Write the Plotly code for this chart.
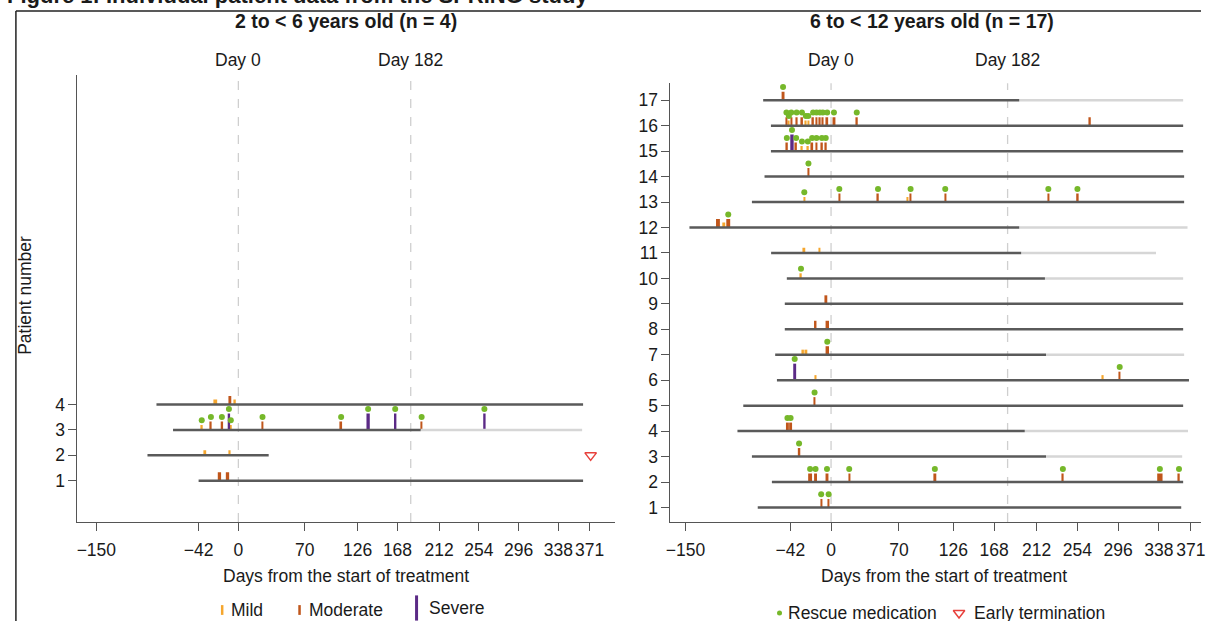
import plotly.graph_objects as go

W, H = 1206, 621

# ---------------- data ----------------
tick_vals = [-150, -42, 0, 70, 126, 168, 212, 254, 296, 338, 371]
tick_text = ["\u2212150", "\u221242", "0", "70", "126", "168", "212", "254", "296", "338", "371"]
ref_days = [0, 182]
ref_labels = ["Day 0", "Day 182"]

# Left panel: 2 to < 6 years old
L_patients = [1, 2, 3, 4]
L_start = [-42, -96, -69, -86.5]
L_dark_end = [364, 32, 192.5, 364]
L_light_end = [None, None, 363, None]
L_term_patient = [2]
L_term_day = [372]

L_ev_patient = [1, 1, 2, 2, 3, 3, 3, 3, 3, 3, 3, 3, 3, 3, 3, 4, 4, 4]
L_ev_day = [-20, -11.5, -35, -9, -38.7, -29, -17.4, -8, -10, 25.5, 108.5, 137, 165.6, 193.5, 259.8, -24.4, -9, -3.5]
L_ev_sev = ["Moderate", "Moderate", "Mild", "Mild", "Mild", "Moderate", "Moderate", "Mild", "Severe",
            "Moderate", "Moderate", "Severe", "Severe", "Moderate", "Severe", "Mild", "Moderate", "Mild"]
L_ev_dur = [3.5, 3.5, 2, 1.5, 2, 1.5, 2.5, 2, 2.5, 1.5, 2, 3.5, 2.5, 1.5, 2.5, 4, 3, 1.5]
L_ev_rescue = [0, 0, 0, 0, 1, 1, 1, 1, 1, 1, 1, 1, 1, 1, 1, 0, 0, 0]

# Right panel: 6 to < 12 years old
R_patients = list(range(1, 18))
R_start = [-75.6, -61, -81.6, -96.5, -90.5, -55.8, -57.6, -47.7, -47.7, -45.6, -61.8, -146, -81.6, -68.6, -62, -62, -70]
R_dark_end = [361, 363, 221.6, 199.7, 363, 369, 221.6, 363, 363, 220.5, 196, 194, 364, 364, 363, 363, 194]
R_light_end = [None, None, 362, 368, None, None, 364, None, None, 363, 335, 367.5, None, None, None, None, 363]
R_term_patient = []
R_term_day = []

R_ev_patient = ([1, 1] + [2] * 8 + [3] + [4, 4] + [5] + [6] * 4 + [7] * 3 + [8, 8] + [9] + [10] + [11, 11]
                + [12] * 3 + [13] * 8 + [14] + [15] * 9 + [16] * 15 + [17])
R_ev_day = ([-10.2, -2.5]
            + [-21.6, -16, -4.2, 18.7, 107, 239, 339, 358.7]
            + [-33]
            + [-45, -41.7]
            + [-17]
            + [-37.5, -16, 280, 297.6]
            + [-29, -25.5, -3.9]
            + [-16.3, -3.9]
            + [-4.9]
            + [-31]
            + [-27.6, -11.7]
            + [-116.6, -110.6, -106]
            + [-27.6, 8.5, 48.4, 79, 82, 117.7, 224, 254]
            + [-23.3]
            + [-45.6, -40.3, -36, -30, -24, -19.5, -15, -9.5, -5.5]
            + [-46, -43.5, -41, -35.5, -30, -26, -23.5, -18.5, -15, -11.5, -8.5, -4, 3, 26.5, 267]
            + [-49.5])
R_ev_sev = (["Moderate"] * 2
            + ["Moderate"] * 8
            + ["Moderate"]
            + ["Moderate"] * 2
            + ["Moderate"]
            + ["Severe", "Mild", "Mild", "Moderate"]
            + ["Mild", "Mild", "Moderate"]
            + ["Moderate", "Moderate"]
            + ["Moderate"]
            + ["Mild"]
            + ["Mild", "Mild"]
            + ["Moderate", "Mild", "Moderate"]
            + ["Mild", "Moderate", "Moderate", "Mild", "Moderate", "Moderate", "Moderate", "Moderate"]
            + ["Moderate"]
            + ["Moderate", "Severe", "Moderate", "Mild", "Mild", "Moderate", "Moderate", "Moderate", "Moderate"]
            + ["Moderate", "Mild", "Moderate", "Moderate", "Moderate", "Mild", "Mild", "Moderate", "Moderate",
               "Moderate", "Moderate", "Moderate", "Moderate", "Moderate", "Moderate"]
            + ["Moderate"])
R_ev_dur = ([1.5, 1.5]
            + [4, 3, 3, 1.5, 3, 1.5, 5.5, 1.5]
            + [2.5]
            + [3, 3]
            + [1.5]
            + [3, 2, 2, 1.5]
            + [2, 2, 3.5]
            + [2.5, 3.5]
            + [2]
            + [1.5]
            + [2, 1.5]
            + [4, 3, 4]
            + [1.5, 1.5, 1.5, 1.5, 1.5, 1.5, 1.5, 2.5]
            + [1.5]
            + [2, 3.5, 1.5, 1.5, 2, 2, 1.5, 2, 2]
            + [2, 1.5, 1.5, 2, 2, 1.5, 1.5, 1.5, 1.5, 1.5, 1.5, 2, 3, 2, 1.5]
            + [3])
R_ev_rescue = ([1, 1]
               + [1] * 8
               + [1]
               + [1, 1]
               + [1]
               + [1, 0, 0, 1]
               + [0, 0, 1]
               + [0, 0]
               + [0]
               + [1]
               + [0, 0]
               + [0, 0, 1]
               + [1, 1, 1, 0, 1, 1, 1, 1]
               + [1]
               + [1] * 9
               + [1] * 14 + [0]
               + [1])

# ---------------- styles ----------------
FONT = "Liberation Sans, Arial, Helvetica, sans-serif"
FS = 17.5
TXT = "#1a1a1a"
AX = "#555555"
sev_color = {"Mild": "#f5a62e", "Moderate": "#c0561b", "Severe": "#5b2a86"}
sev_height = {"Mild": 0.2, "Moderate": 0.335, "Severe": 0.65}
DOT_GAP = 0.18
GREEN = "#76b82a"
RED = "#e8413c"
DARK_LINE = "#5a5a5a"
LIGHT_LINE = "#d6d6d6"


def px(x):
    return x / W


def py(y):
    return 1 - y / H


fig = go.Figure()


def add_panel(xa, ya, patients, start, dark_end, light_end, ev_p, ev_d, ev_s, ev_w, ev_r, term_p, term_d):
    lx, ly = [], []
    for p, d, l in zip(patients, dark_end, light_end):
        if l is not None:
            lx += [d, l, None]
            ly += [p, p, None]
    fig.add_trace(go.Scatter(x=lx, y=ly, mode="lines", line=dict(color=LIGHT_LINE, width=2.5),
                             xaxis=xa, yaxis=ya, showlegend=False, hoverinfo="skip"))
    dx, dy = [], []
    for p, s, d in zip(patients, start, dark_end):
        dx += [s, d, None]
        dy += [p, p, None]
    fig.add_trace(go.Scatter(x=dx, y=dy, mode="lines", line=dict(color=DARK_LINE, width=2.5),
                             xaxis=xa, yaxis=ya, showlegend=False, hoverinfo="skip"))
    for sev in ["Mild", "Moderate", "Severe"]:
        idx = [i for i, s in enumerate(ev_s) if s == sev]
        if not idx:
            continue
        fig.add_trace(go.Bar(
            x=[ev_d[i] for i in idx], y=[sev_height[sev]] * len(idx), base=[ev_p[i] for i in idx],
            width=[ev_w[i] for i in idx], marker=dict(color=sev_color[sev], line=dict(width=0)),
            xaxis=xa, yaxis=ya, showlegend=False, hoverinfo="skip"))
    idx = [i for i, r in enumerate(ev_r) if r]
    fig.add_trace(go.Scatter(
        x=[ev_d[i] for i in idx], y=[ev_p[i] + sev_height[ev_s[i]] + DOT_GAP for i in idx],
        mode="markers", marker=dict(color=GREEN, size=6, line=dict(width=0)),
        xaxis=xa, yaxis=ya, showlegend=False, hoverinfo="skip"))
    if term_p:
        fig.add_trace(go.Scatter(
            x=term_d, y=term_p, mode="markers",
            marker=dict(symbol="triangle-down-open", color=RED, size=10, line=dict(width=1.5, color=RED)),
            xaxis=xa, yaxis=ya, showlegend=False, hoverinfo="skip"))


add_panel("x", "y", L_patients, L_start, L_dark_end, L_light_end,
          L_ev_patient, L_ev_day, L_ev_sev, L_ev_dur, L_ev_rescue, L_term_patient, L_term_day)
add_panel("x2", "y2", R_patients, R_start, R_dark_end, R_light_end,
          R_ev_patient, R_ev_day, R_ev_sev, R_ev_dur, R_ev_rescue, R_term_patient, R_term_day)

# legend keys drawn on an invisible pixel-space overlay axis
leg_x = [219, 297, 415, 781, 962]
leg_y = [610, 610, 608, 613, 613]
leg_sym = ["line-ns", "line-ns", "line-ns", "circle", "triangle-down-open"]
leg_size = [7, 7, 18, 5, 10]
leg_col = [sev_color["Mild"], sev_color["Moderate"], sev_color["Severe"], GREEN, RED]
leg_lw = [2.5, 2.5, 3, 0, 1.5]
for x, y, s, sz, c, lw in zip(leg_x, leg_y, leg_sym, leg_size, leg_col, leg_lw):
    fig.add_trace(go.Scatter(x=[x], y=[y], mode="markers", xaxis="x3", yaxis="y3",
                             marker=dict(symbol=s, size=sz, color=c, line=dict(color=c, width=lw)),
                             showlegend=False, hoverinfo="skip"))

leg_text = ["Mild", "Moderate", "Severe", "Rescue medication", "Early termination"]
leg_tx = [226, 305, 426, 788, 975]

axis_common = dict(showline=True, linecolor=AX, linewidth=1, ticks="outside", ticklen=8, tickwidth=1,
                   tickcolor=AX, showgrid=False, zeroline=False,
                   tickfont=dict(family=FONT, size=FS, color=TXT), fixedrange=True)

fig.update_layout(
    width=W, height=H, margin=dict(l=0, r=0, t=0, b=0),
    paper_bgcolor="white", plot_bgcolor="rgba(0,0,0,0)", barmode="overlay", showlegend=False,
    font=dict(family=FONT, size=FS, color=TXT),
    xaxis=dict(domain=[px(73), px(615)], range=[-170, 397.6], tickvals=tick_vals, ticktext=tick_text,
               anchor="y", ticklabelstandoff=4, **axis_common),
    yaxis=dict(domain=[py(522), py(75)], range=[-0.626, 16.99], tickvals=L_patients, anchor="x",
               **axis_common),
    xaxis2=dict(domain=[px(671), 1.0], range=[-165.6, 381.4], tickvals=tick_vals, ticktext=tick_text,
                anchor="y2", ticklabelstandoff=4, ticklabeloverflow="allow", **axis_common),
    yaxis2=dict(domain=[py(522), py(83.3)], range=[0.429, 17.665], tickvals=R_patients, anchor="x2",
                **axis_common),
    xaxis3=dict(domain=[0, 1], range=[0, W], visible=False, anchor="y3", fixedrange=True),
    yaxis3=dict(domain=[0, 1], range=[H, 0], visible=False, anchor="x3", fixedrange=True),
)

shapes = []
for xa in ["x", "x2"]:
    ya = "y" if xa == "x" else "y2"
    for d in ref_days:
        shapes.append(dict(type="line", xref=xa, yref=ya + " domain", x0=d, x1=d, y0=0, y1=1,
                           line=dict(color="#cfcfcf", width=1.3, dash="dash"), layer="below"))
# figure frame
shapes.append(dict(type="line", xref="paper", yref="paper", x0=px(11), x1=1, y0=py(11), y1=py(11),
                   line=dict(color="#222222", width=1.5)))
shapes.append(dict(type="line", xref="paper", yref="paper", x0=px(11), x1=px(11), y0=py(11), y1=0,
                   line=dict(color="#222222", width=1.5)))
fig.update_layout(shapes=shapes)

ann = []
ann.append(dict(text="<b>Figure 1: Individual patient data from the SPRING study</b>", xref="paper",
                yref="paper", x=0, y=py(-4), xanchor="left", yanchor="middle", showarrow=False,
                font=dict(size=22, family=FONT, color=TXT)))
ann.append(dict(text="<b>2 to < 6 years old (n = 4)</b>", xref="paper", yref="paper", x=px(344), y=py(21),
                xanchor="center", yanchor="middle", showarrow=False, font=dict(size=19.5, family=FONT, color=TXT)))
ann.append(dict(text="<b>6 to < 12 years old (n = 17)</b>", xref="paper", yref="paper", x=px(935), y=py(21),
                xanchor="center", yanchor="middle", showarrow=False, font=dict(size=19.5, family=FONT, color=TXT)))
for xa in ["x", "x2"]:
    for d, lab in zip(ref_days, ref_labels):
        ann.append(dict(text=lab, xref=xa, yref="paper", x=d, y=py(60), xanchor="center", yanchor="middle",
                        showarrow=False, font=dict(size=FS, family=FONT, color=TXT)))
ann.append(dict(text="Days from the start of treatment", xref="paper", yref="paper", x=px(344), y=py(576),
                xanchor="center", yanchor="middle", showarrow=False, font=dict(size=FS, family=FONT, color=TXT)))
ann.append(dict(text="Days from the start of treatment", xref="paper", yref="paper", x=px(947), y=py(576),
                xanchor="center", yanchor="middle", showarrow=False, font=dict(size=FS, family=FONT, color=TXT)))
ann.append(dict(text="Patient number", xref="paper", yref="paper", x=px(20), y=py(295), textangle=-90,
                xanchor="center", yanchor="middle", showarrow=False, font=dict(size=FS, family=FONT, color=TXT)))
for t, x, y in zip(leg_text, leg_tx, leg_y):
    ann.append(dict(text=t, xref="x3", yref="y3", x=x, y=y, xanchor="left", yanchor="middle",
                    showarrow=False, font=dict(size=FS, family=FONT, color=TXT)))
fig.update_layout(annotations=ann)

fig.write_html("out.html", config={"displayModeBar": False},
               post_script="document.body.style.margin='0';document.body.style.overflow='hidden';")
